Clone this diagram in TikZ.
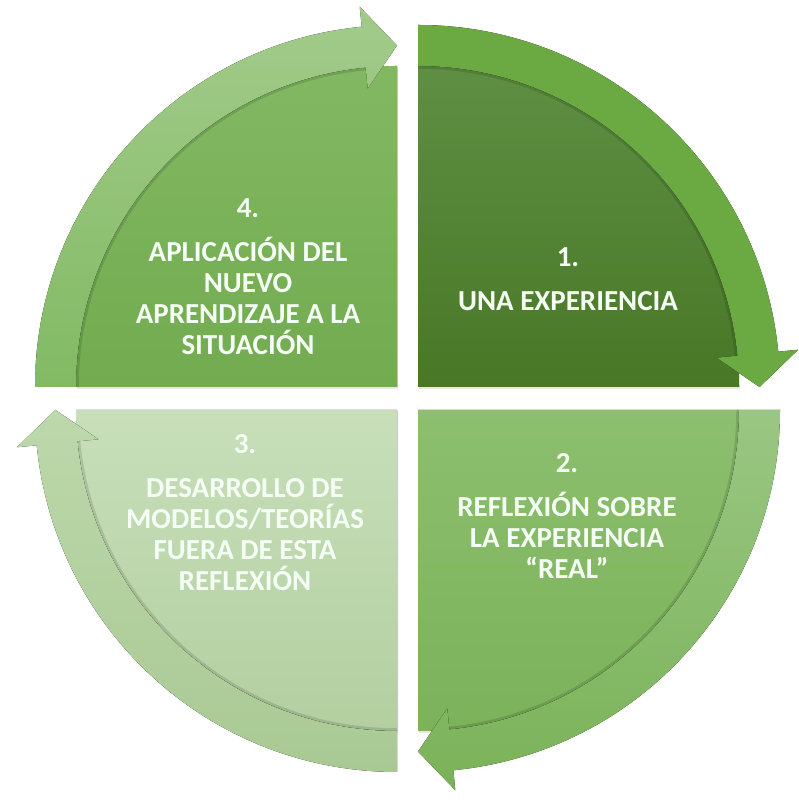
\documentclass[tikz,border=0pt]{standalone}
\usepackage{fontspec}
\setmainfont{Carlito}
\usetikzlibrary{shadows}
\definecolor{oneTop}{HTML}{5E8F43}
\definecolor{oneBot}{HTML}{487826}
\definecolor{oneBand}{HTML}{6BAA42}
\definecolor{twoTop}{HTML}{8DBF6E}
\definecolor{twoBot}{HTML}{7BB25A}
\definecolor{twoBandTop}{HTML}{9AC783}
\definecolor{twoBandBot}{HTML}{7AB258}
\definecolor{threeTop}{HTML}{C8DFBA}
\definecolor{threeBot}{HTML}{B3CFA0}
\definecolor{threeBandTop}{HTML}{BDD8AB}
\definecolor{threeBandBot}{HTML}{A9C994}
\definecolor{fourTop}{HTML}{82B862}
\definecolor{fourBot}{HTML}{72AB50}
\definecolor{fourBandTop}{HTML}{A2CB8B}
\definecolor{fourBandBot}{HTML}{82BA63}
\begin{document}
\begin{tikzpicture}[
  x=1pt, y=1pt,
  quarter/.style={drop shadow={opacity=0.2, shadow xshift=1pt, shadow yshift=-2pt}},
  rim/.style={draw=black, opacity=0.12, line width=2.5pt},
  label/.style={text=white!96!green, align=center, font=\bfseries\fontsize{29}{31}\selectfont}
  ]
  \useasboundingbox (0,0) rectangle (798,802);
  \coordinate (q1) at (418,415);
  \coordinate (q2) at (418,392);
  \coordinate (q3) at (397,392);
  \coordinate (q4) at (397,415);
  \foreach \c/\a/\ft/\fb/\bt/\bb in {q1/0/oneTop/oneBot/oneBand/oneBand,
      q2/-90/twoTop/twoBot/twoBandTop/twoBandBot,
      q3/-180/threeTop/threeBot/threeBandTop/threeBandBot,
      q4/90/fourTop/fourBot/fourBandTop/fourBandBot}{
    \begin{scope}[shift={(\c)}]
      \fill[quarter, top color=\ft, bottom color=\fb] (0,0) -- (\a+90:321)
        arc[start angle=\a+90, end angle=\a, radius=321] -- cycle;
      \fill[top color=\bt, bottom color=\bb] (\a+90:362)
        arc[start angle=\a+90, end angle=\a+5.6, radius=362]
        -- (\a+5.6:382) -- (\a:341.5) -- (\a+5.6:300) -- (\a+5.6:321)
        arc[start angle=\a+5.6, end angle=\a+90, radius=321] -- cycle;
      \draw[rim] (\a+5.6:319.5) arc[start angle=\a+5.6, end angle=\a+90, radius=319.5];
    \end{scope}
  }
  \node[label] (t1) at (568,523) {1.\\[13pt] UNA EXPERIENCIA};
  \node[label] (t2) at (567,286) {2.\\[13pt] REFLEXIÓN SOBRE\\ LA EXPERIENCIA\\ “REAL”};
  \node[label] (t3) at (245,289) {3.\\[13pt] DESARROLLO DE\\ MODELOS/TEORÍAS\\ FUERA DE ESTA\\ REFLEXIÓN};
  \node[label] (t4) at (248,525) {4.\\[13pt] APLICACIÓN DEL\\ NUEVO\\ APRENDIZAJE A LA\\ SITUACIÓN};
\end{tikzpicture}
\end{document}
